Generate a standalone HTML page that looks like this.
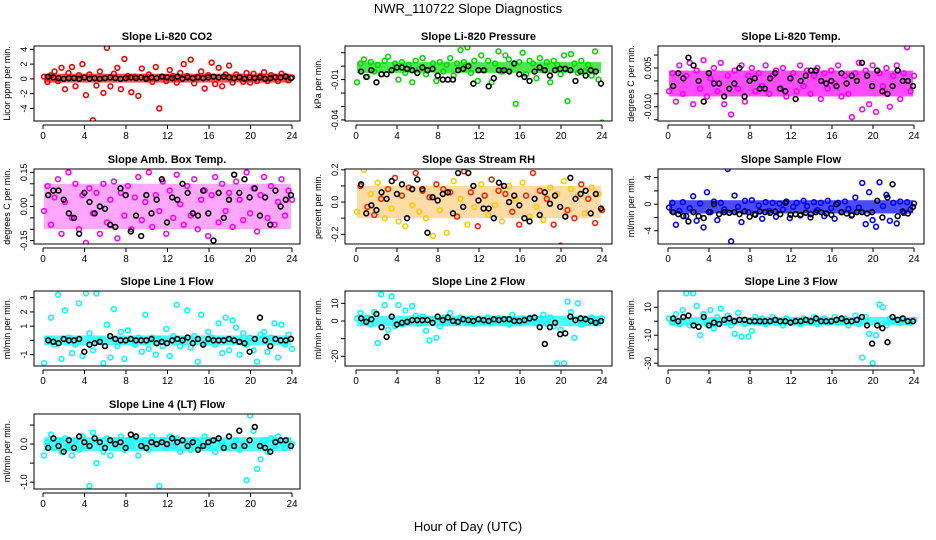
<!DOCTYPE html>
<html><head><meta charset="utf-8"><style>
body{margin:0;background:#fff;}
svg{display:block;font-family:"Liberation Sans",sans-serif;}
</style></head><body>
<svg id="chart" width="936" height="540" viewBox="0 0 936 540" xmlns="http://www.w3.org/2000/svg">
<rect width="936" height="540" fill="#fff"/>
<text x="468" y="13" text-anchor="middle" font-size="13">NWR_110722  Slope Diagnostics</text>
<text x="468" y="531" text-anchor="middle" font-size="13">Hour of Day (UTC)</text>
</svg>
<script>
const hourTicks = [0,4,8,12,16,20,24];
const titles = ["Slope Li-820 CO2","Slope Li-820 Pressure","Slope Li-820 Temp.","Slope Amb. Box Temp.","Slope Gas Stream RH","Slope Sample Flow","Slope Line 1 Flow","Slope Line 2 Flow","Slope Line 3 Flow","Slope Line 4 (LT) Flow"];
const yTitles = ["Licor ppm per min.","kPa per min.","degrees C per min.","degrees C per min.","percent per min.","ml/min per min.","ml/min per min.","ml/min per min.","ml/min per min.","ml/min per min."];
const yRanges = [[-5.7,4.45],[-0.0408,0.015],[-0.0155,0.0135],[-0.165,0.165],[-0.26,0.205],[-6.0,5.3],[-1.8,3.47],[-25.5,17],[-32,21.6],[-1.18,0.79]];
const yTicks = [[-4,-2,0,2,4],[0.01,0,-0.01,-0.02,-0.03,-0.04],[0.01,0.005,0,-0.005,-0.01,-0.015],[0.15,0.1,0.05,0,-0.05,-0.1,-0.15],[0.2,0.1,0,-0.1,-0.2],[4,2,0,-2,-4],[3,2,1,0,-1],[10,0,-10,-20],[10,0,-10,-20,-30],[0.5,0,-0.5,-1]];
const yTickLabels = [["-4","-2","0","2","4"],["","","-0.01","","","-0.04"],["","0.005","","","-0.010",""],["0.15","","","0.00","","","-0.15"],["0.2","","0.0","","-0.2"],["4","","0","","-4"],["3","2","1","","-1"],["10","0","","-20"],["10","","-10","","-30"]
,["","0.0","","-1.0"]];
const colors = ["#ff0000","#00dd00","#ff00ff","#ff00ff","rh","#0000ff","#00ffff","#00ffff","#00ffff","#00ffff"];

const vCO2 = [0.3,-0.4,0.5,1.0,-0.3,1.5,-1.4,0.8,1.6,-1.0,0.5,2.0,-2.2,0.6,-5.6,-0.9,1.0,-1.9,4.2,-1.0,0.7,1.5,-1.4,2.7,0.4,-1.8,0.3,-2.3,1.4,0.2,0.6,-0.4,1.6,-4.0,0.3,-0.3,1.2,0.4,-0.5,0.8,2.0,0.4,2.6,-0.6,0.3,1.0,-1.3,0.5,2.2,-0.7,1.5,-1.0,0.6,1.8,-0.5,0.6,0.3,-0.4,0.8,-0.5,0.7,-0.3,0.4,0.9,-0.3,0.5,0.3,-0.3,0.7,0.4,-0.2,0.2];
const kCO2 = [0.3,0.2,0.1,0.0,0.1,0.1,0.0,0.2,0.0,0.1,0.0,0.1,0.2,0.1,0.0,0.1,0.2,0.1,0.2,0.0,0.2,0.1,0.3,0.2,0.1,0.3,0.0,0.2,0.1,0.2,0.1,0.2,0.3,0.2,0.3,0.2,0.1,0.2,0.0,0.2,0.1,0.2,0.0,0.1,0.2,0.2,0.3,0.1];
const vPres = [-0.012,0.002,0.005,-0.008,0.003,-0.004,0.001,-0.006,0.004,0.007,-0.003,0.002,-0.01,0.003,-0.005,0.001,-0.012,0.004,-0.002,0.006,-0.006,-0.043,0.002,-0.011,0.003,-0.004,0.001,0.006,-0.007,0.002,0.012,0.003,0.014,-0.005,0.004,-0.011,0.008,-0.003,0.004,-0.012,0.002,0.011,-0.004,0.008,0.005,-0.046,-0.028,0.003,0.01,-0.006,0.004,0.002,-0.009,0.006,-0.003,0.003,-0.012,0.004,0.001,-0.006,0.008,-0.026,0.009,0.002,-0.005,0.004,-0.004,0.001,-0.007,0.011,-0.01,-0.042];
const kPres = [-0.004,-0.008,-0.003,-0.012,-0.006,-0.006,-0.003,-0.001,-0.001,-0.002,-0.003,-0.005,-0.001,-0.003,-0.002,-0.007,-0.01,-0.01,-0.01,-0.003,-0.002,0.0,-0.013,-0.003,-0.003,-0.015,-0.009,-0.003,-0.003,-0.004,0.002,-0.006,-0.008,-0.011,-0.004,-0.001,-0.003,-0.007,-0.003,-0.002,-0.002,-0.003,-0.011,-0.004,-0.007,-0.003,-0.004,-0.013];
const vTemp = [-0.004,0.003,-0.008,0.006,-0.005,0.002,0.007,-0.009,0.004,-0.003,0.008,-0.006,0.001,0.005,-0.004,0.007,-0.009,0.002,-0.013,0.004,-0.003,0.006,-0.008,0.002,0.005,-0.004,0.003,-0.002,0.006,-0.005,0.002,0.004,-0.003,0.005,-0.006,0.001,0.003,-0.004,0.006,-0.002,0.004,-0.005,0.002,0.005,-0.007,0.003,-0.003,0.004,-0.001,0.006,-0.006,0.002,-0.005,-0.014,0.003,0.007,-0.011,0.004,-0.009,0.006,-0.012,0.003,-0.002,0.005,-0.01,0.002,0.006,-0.007,0.003,0.013,-0.004,0.002];
const kTemp = [-0.002,0.003,0.001,0.009,0.006,0.0,-0.008,0.003,-0.001,-0.001,-0.006,-0.003,-0.001,0.005,-0.006,0.0,0.001,-0.003,-0.003,0.001,0.003,-0.003,-0.004,0.001,-0.007,0.0,0.002,0.004,0.004,0.0,-0.001,0.0,-0.002,0.003,-0.001,0.002,0.0,0.007,0.002,-0.002,0.004,-0.004,-0.005,-0.002,0.004,0.0,0.0,-0.002];
const vAmb = [-0.02,0.09,-0.08,0.04,0.12,-0.12,0.02,0.15,-0.05,0.1,-0.1,0.05,-0.16,0.08,-0.03,0.06,-0.12,0.1,-0.07,0.03,0.11,-0.14,0.06,-0.04,0.09,-0.1,0.04,0.13,-0.06,0.02,0.15,-0.09,0.05,-0.02,0.11,-0.12,0.07,-0.05,0.14,0.01,-0.08,0.09,-0.04,0.12,-0.1,0.03,0.07,-0.13,0.05,0.13,-0.07,0.1,-0.02,0.06,-0.09,0.11,0.03,-0.06,0.15,-0.03,0.08,-0.11,0.05,0.13,-0.05,0.09,-0.08,0.02,0.12,-0.04,0.07,0.03];
const kAmb = [0.05,0.07,0.07,0.03,-0.03,-0.05,-0.12,0.06,0.02,-0.03,0.0,-0.01,-0.08,-0.09,0.08,0.05,-0.11,-0.04,-0.13,0.05,-0.03,0.03,0.12,-0.07,0.04,0.03,0.1,0.06,-0.03,-0.04,0.07,-0.03,-0.15,0.06,-0.05,0.03,0.14,0.06,0.12,0.04,0.08,-0.04,0.04,-0.08,0.07,0.0,0.03,0.05];
const vRH = [-0.06,0.1,0.2,-0.03,0.05,-0.08,0.12,0.02,-0.1,0.08,-0.04,0.15,-0.12,0.04,-0.15,0.09,-0.02,0.18,-0.06,0.07,-0.1,0.03,-0.21,0.11,-0.05,0.08,-0.19,0.06,0.13,-0.09,0.02,0.19,-0.14,0.06,-0.03,-0.15,0.11,0.04,-0.08,0.14,-0.02,0.07,-0.12,0.05,0.1,-0.06,0.02,-0.14,0.12,0.04,-0.09,0.18,-0.03,0.07,-0.11,0.02,0.09,-0.14,0.05,-0.27,0.13,-0.05,0.08,-0.1,0.04,0.11,-0.07,0.02,0.09,-0.13,0.05,-0.05];
const kRH = [0.11,-0.07,-0.02,-0.05,0.06,0.02,0.13,0.05,0.11,-0.1,0.08,0.14,0.08,-0.19,0.03,0.01,0.05,0.06,-0.07,0.18,-0.03,0.18,0.1,0.01,-0.04,-0.04,-0.1,0.12,0.1,0.0,0.04,-0.02,-0.1,-0.12,0.02,-0.08,0.06,-0.01,0.04,-0.03,-0.09,0.15,0.02,0.05,0.07,-0.07,0.05,-0.04];
const vSmp = [-0.5,0.2,-3.1,-1.0,0.3,-1.8,-0.6,1.2,-2.5,0.1,-3.5,1.8,-1.2,0.4,-2.4,0.2,-0.8,5.3,-5.6,1.3,-0.4,-2.7,0.5,-1.2,0.6,-1.6,-0.2,-2.2,0.3,-1.0,0.2,-1.9,0.1,-0.8,0.4,-2.1,-0.4,0.2,-1.7,0.5,-0.3,-2.0,0.3,-0.9,0.2,-1.8,0.5,-0.6,-2.2,0.2,-1.2,0.4,-0.7,-1.6,1.0,-0.5,3.2,-3.0,1.8,-2.4,-3.4,3.3,-0.3,1.4,-2.5,0.2,-2.9,0.4,-1.3,0.3,-0.8,0.1];
const kSmp = [-1.2,-1.5,-1.8,-2.6,-1.2,-1.8,-2.1,-1.2,0.0,-1.5,-1.2,-1.3,-1.2,-1.5,-1.1,-1.9,-1.5,-1.1,-1.2,-1.3,-1.1,-1.5,0.2,-1.6,-1.5,-1.6,-1.3,-1.5,-1.2,-1.2,-1.4,-1.6,0.0,-1.2,-1.4,-1.7,-1.2,-1.2,-1.4,-1.2,0.5,-2.0,1.0,3.0,-1.8,-1.1,-1.4,-0.4];
const vL1 = [-1.6,0.1,1.6,-0.3,3.2,-1.3,2.1,0.2,-0.9,-0.3,2.6,-1.1,3.3,0.5,-0.7,3.3,0.0,-1.6,1.1,-1.2,2.2,-0.4,0.6,-1.3,0.7,0.1,-0.3,0.2,-0.8,1.8,-0.6,0.2,-1.0,0.1,-0.4,0.8,-1.1,0.3,2.5,-0.4,0.1,2.1,-0.5,0.3,-1.5,1.8,-0.2,0.6,0.2,-0.3,1.2,-0.9,1.6,-0.7,1.4,0.9,-1.0,0.5,-0.3,0.2,-0.7,-1.5,0.4,0.6,-0.8,0.2,1.2,-1.2,1.1,-0.3,0.4,-0.6];
const kL1 = [0.0,-0.1,-0.2,0.1,0.0,0.0,0.1,-0.8,-0.3,-0.2,-0.1,-0.4,0.3,0.1,0.0,0.0,0.1,0.0,0.0,0.0,0.1,-0.2,-0.1,-0.2,0.0,0.1,0.0,0.2,-0.2,0.1,-0.3,0.1,0.0,0.0,0.0,0.1,0.0,-0.1,-0.2,-0.8,0.1,1.6,0.0,-0.4,0.1,0.0,0.0,0.1];
const vL2 = [1.5,4.5,-0.5,2.0,-2.0,5.0,-12.5,15.0,9.0,-5.0,14.0,-3.0,9.0,-2.0,6.0,-1.0,8.5,3.0,-1.5,2.5,-5.5,-11.0,1.0,-9.5,-3.0,2.0,-1.0,4.5,0.5,-1.0,2.0,0.5,-1.0,1.5,-1.5,1.0,0.0,-0.5,2.0,-1.0,0.5,1.5,-0.5,1.0,-2.0,3.5,0.5,-1.0,1.5,0.0,0.5,2.0,-1.0,1.0,3.5,-1.5,2.0,-3.0,-24.0,-5.0,-24.0,11.0,5.0,-9.5,10.0,-2.0,1.5,-1.0,2.0,0.5,-1.0,1.5];
const kL2 = [1.5,-0.5,1.0,4.0,-3.5,-9.0,2.5,-2.0,-1.0,-0.5,0.5,0.5,0.5,0.5,-1.0,2.5,0.5,2.0,0.0,-0.5,1.0,0.5,0.0,1.0,0.5,0.0,1.0,0.5,1.0,1.0,0.0,0.0,0.5,1.5,2.0,-3.5,-13.0,-3.5,-1.0,-7.5,-7.0,2.5,0.5,1.5,1.0,0.0,-1.0,0.0];
const vL3 = [2,-1,5,-2,8,20,-3,20,11,-10,5,-2,8,-5,3,9,-1,4,-3,-9,6,-11,-2,-11,-7,3,-1,2,-2,1,3,-1,0,-3,2,0,-1,1,-2,2,0,-1,3,-2,1,2,-1,0,3,-1,1,2,-3,0,4,-2,-26,3,-9,-30,-10,12,10,-3,2,0,1,-1,2,0,-1,1];
const kL3 = [2,0,3,4,-3,-4,3,-3,-1,-2,1,2,0,1,1,0,0,0,0,0,1,0,0,-1,0,0,1,0,2,0,0,0,1,2,0,0,1,3,-3,-16,-3,-5,-15,3,1,2,0,0];
const vL4 = [-0.3,0.05,0.25,-0.1,0.1,-0.2,0.15,-0.05,-0.3,0.1,-0.15,0.2,-0.05,-1.1,0.3,-0.5,0.05,-0.2,0.15,-0.3,0.1,-0.05,0.2,-0.15,0.1,-0.05,0.15,-0.3,0.05,0.1,-0.15,0.2,0.0,-1.1,0.1,-0.1,0.2,-0.05,0.15,-0.2,0.1,0.0,-0.15,0.1,0.05,-0.1,0.2,-0.05,0.1,-0.2,0.15,0.05,-0.1,0.2,-0.05,0.1,-0.15,0.0,-0.95,0.75,0.35,-0.65,-0.4,0.1,-0.2,0.15,-0.05,0.2,0.05,-0.1,0.1,0.0];
const kL4 = [-0.1,0.15,-0.05,-0.2,0.1,-0.1,0.2,0.05,-0.05,0.15,0.05,-0.1,0.1,0.0,0.05,-0.1,0.25,0.2,-0.05,-0.1,0.05,0.0,0.05,0.0,0.15,0.05,0.1,-0.05,0.05,-0.15,-0.05,0.05,0.1,0.15,-0.1,0.2,-0.05,0.35,-0.05,0.1,0.45,-0.05,-0.1,-0.2,0.05,0.1,0.1,-0.05];

const colorSeries = [vCO2,vPres,vTemp,vAmb,vRH,vSmp,vL1,vL2,vL3,vL4];
const blackSeries = [kCO2,kPres,kTemp,kAmb,kRH,kSmp,kL1,kL2,kL3,kL4];

const NS="http://www.w3.org/2000/svg";
const svg=document.getElementById('chart');
const colL=[34,345,658], colR=[300,612,924], colX0=[43,356,668], colX24=[292,602,914];
const rowT=[46,169,291,414], rowB=[121,244,366,489];
const bandW=[0.6,0.004,0.005,0.1,0.1,1.0,0.35,3,3,0.18];
const bandC=[0.1,-0.001,-0.001,0,0,-0.4,0,0,0,0];
function mk(tag,attrs,parent){const e=document.createElementNS(NS,tag);for(const k in attrs)e.setAttribute(k,attrs[k]);(parent||svg).appendChild(e);return e;}

for(let p=0;p<10;p++){
  const c=p%3, r=Math.floor(p/3);
  const L=colL[c],R=colR[c],T=rowT[r],B=rowB[r];
  const g=mk('g',{});
  
  
  const xs=h=>colX0[c]+(h/24)*(colX24[c]-colX0[c]);
  const [ymin,ymax]=yRanges[p];
  const ys=v=>B-(v-ymin)/(ymax-ymin)*(B-T);
  const clip=mk('clipPath',{id:'cl'+p},g);mk('rect',{x:L,y:T,width:R-L,height:B-T},clip);
  const pts=mk('g',{'clip-path':'url(#cl'+p+')'},g);
  const bw=bandW[p], bc=bandC[p];
  const band=mk('rect',{x:xs(0.1),y:ys(bc+bw),width:xs(23.9)-xs(0.1),height:ys(bc-bw)-ys(bc+bw),fill:colors[p]==='rh'?'#ff9900':colors[p],opacity:(p===3||p===4)?0.35:0.7},pts);
  
  
  const cv=colorSeries[p];
  cv.forEach((v,i)=>{
    const h=0.1+i*(23.9/(cv.length-1));
    let col=colors[p];
    if(col==='rh') col = (i%2)?'#ff2200':'#ffcc00';
    const e=mk('circle',{cx:xs(h),cy:ys(v),r:2.4,fill:'none',stroke:col,'stroke-width':1.6},pts);
    
    
  });
  const kv=blackSeries[p];
  kv.forEach((v,i)=>{
    const h=0.5+i*(23.4/(kv.length-1));
    const e=mk('circle',{cx:xs(h),cy:ys(v),r:2.4,fill:'none',stroke:'#000','stroke-width':1.6},pts);
    
    
  });
  const box=mk('rect',{x:L,y:T,width:R-L,height:B-T,fill:'none',stroke:'#000','stroke-width':1},g);
  
  
  const t=mk('text',{x:(L+R)/2,y:T-6,'text-anchor':'middle','font-size':11,'font-weight':'bold'},g);
  t.textContent=titles[p];
  
  
  mk('line',{x1:xs(0),x2:xs(24),y1:B+4,y2:B+4,stroke:'#000'},g);
  hourTicks.forEach(h=>{
    mk('line',{x1:xs(h),x2:xs(h),y1:B+4,y2:B+8,stroke:'#000'},g);
    const tx=mk('text',{x:xs(h),y:B+18,'text-anchor':'middle','font-size':10},g);
    tx.textContent=h;
    
    
  });
  yTicks[p].forEach((v,i)=>{
    const y=ys(v);
    mk('line',{x1:L-4,x2:L,y1:y,y2:y,stroke:'#000'},g);
    const lab=yTickLabels[p][i];
    if(lab){
      const tx=mk('text',{x:0,y:0,'text-anchor':'middle','font-size':9,transform:`translate(${L-7},${y}) rotate(-90)`},g);
      tx.textContent=lab;
      
      
    }
  });
  const yt=mk('text',{x:0,y:0,'text-anchor':'middle','font-size':9,transform:`translate(${L-24},${(T+B)/2}) rotate(-90)`},g);
  yt.textContent=yTitles[p];
  
  
}
</script>
</body></html>
